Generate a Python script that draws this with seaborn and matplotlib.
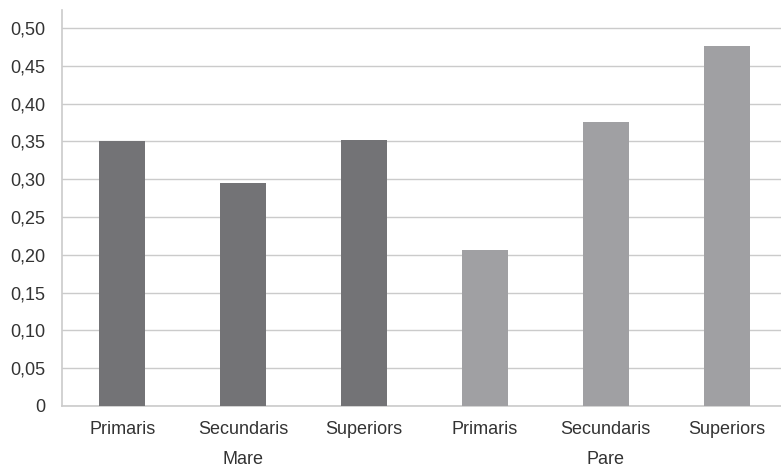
import pandas as pd
import matplotlib.pyplot as plt
import seaborn as sns

# Dades
grups = ['Mare', 'Mare', 'Mare', 'Pare', 'Pare', 'Pare']
estudis = ['Primaris', 'Secundaris', 'Superiors', 'Primaris', 'Secundaris', 'Superiors']
valors = [0.350, 0.295, 0.352, 0.206, 0.376, 0.477]
yticks = [0, 0.05, 0.10, 0.15, 0.20, 0.25, 0.30, 0.35, 0.40, 0.45, 0.50]

df = pd.DataFrame({'grup': grups, 'estudis': estudis, 'valor': valors})
df['clau'] = df['grup'] + '_' + df['estudis']

sns.set_style('white')
plt.rcParams['font.family'] = ['Liberation Sans', 'DejaVu Sans']

fig = plt.figure(figsize=(7.81, 4.67), dpi=100)
ax = fig.add_axes([62 / 781, 61 / 467, 1 - 62 / 781, (406 - 10) / 467])

sns.barplot(data=df, x='clau', y='valor', hue='grup',
            palette={'Mare': '#737376', 'Pare': '#a0a0a3'},
            saturation=1, dodge=False, width=0.38, legend=False, ax=ax,
            zorder=3, linewidth=0, edgecolor='none')

ax.set_xlim(-0.5, 5.45)
ax.set_ylim(0, 0.524)
ax.set_yticks(yticks)
ax.set_yticklabels(['0' if v == 0 else f'{v:.2f}'.replace('.', ',') for v in yticks])
ax.yaxis.grid(True, color='#cbcbcb', linewidth=1, zorder=0)
ax.set_xticks(range(len(estudis)))
ax.set_xticklabels(estudis)
ax.set_xlabel('')
ax.set_ylabel('')

for s in ['top', 'right']:
    ax.spines[s].set_visible(False)
for s in ['left', 'bottom']:
    ax.spines[s].set_color('#cbcbcb')
    ax.spines[s].set_linewidth(1.2)

ax.tick_params(axis='y', length=0, labelsize=13, labelcolor='#333333', pad=12)
ax.tick_params(axis='x', length=6, color='#cbcbcb', labelsize=13, labelcolor='#333333', pad=5)

# Etiquetes de grup
ax.text(1, -0.136, 'Mare', transform=ax.get_xaxis_transform(), ha='center', va='center',
        fontsize=13, color='#333333')
ax.text(4, -0.136, 'Pare', transform=ax.get_xaxis_transform(), ha='center', va='center',
        fontsize=13, color='#333333')

fig.savefig('out.png', dpi=100)
